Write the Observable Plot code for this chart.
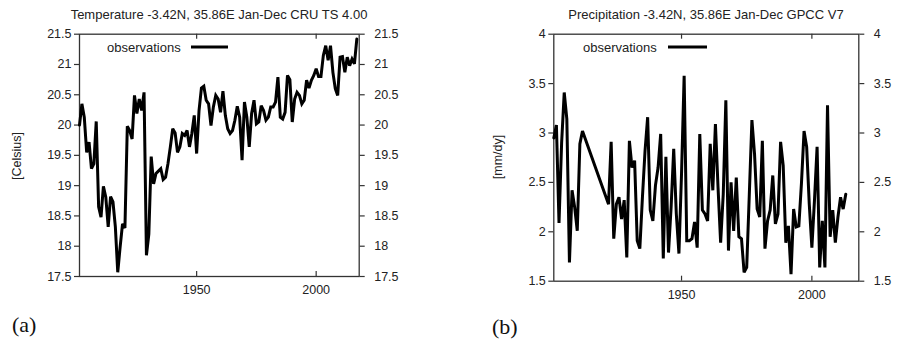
<!DOCTYPE html>
<html>
<head>
<meta charset="utf-8">
<script src="https://cdn.jsdelivr.net/npm/d3@7"></script>
<script src="https://cdn.jsdelivr.net/npm/@observablehq/plot@0.6"></script>
<style>
  html, body { margin: 0; padding: 0; background: #fff; }
  #wrap { position: relative; width: 901px; height: 344px; overflow: hidden; font-family: "Liberation Sans", Arial, sans-serif; color: #222; }
  .abs { position: absolute; white-space: nowrap; }
  .title { font-size: 13px; transform: translate(-50%, -50%); }
  .ylab { font-size: 12.5px; transform: translate(-50%, -50%) rotate(-90deg); }
  .panel { font-family: "Liberation Serif", "DejaVu Serif", serif; font-size: 22px; color: #111; }
  .legtext { font-size: 13px; transform: translateY(-50%); }
  .legline { height: 3px; background: #000; transform: translateY(-50%); }
  svg { position: absolute; top: 0; }
</style>
</head>
<body>
<div id="wrap"></div>
<script>
// ---- Data ----
const tempYears = d3.range(1901, 2018);
const tempValues = [
  20.00, 20.35, 20.13, 19.55, 19.72, 19.28, 19.36, 20.06, 18.65, 18.48,
  18.99, 18.81, 18.32, 18.82, 18.73, 18.32, 17.57, 17.99, 18.37, 18.30,
  19.98, 19.91, 19.77, 20.49, 20.19, 20.43, 20.24, 20.54, 17.85, 18.20,
  19.48, 19.03, 19.20, 19.24, 19.28, 19.10, 19.14, 19.36, 19.64, 19.94,
  19.87, 19.55, 19.64, 19.86, 19.83, 19.91, 19.64, 19.86, 20.16, 19.53,
  20.24, 20.61, 20.64, 20.41, 20.35, 19.99, 20.30, 20.49, 20.43, 20.21,
  20.56, 20.16, 19.94, 19.86, 19.91, 20.08, 20.31, 20.13, 19.42, 20.38,
  20.13, 19.64, 20.19, 20.41, 20.02, 20.05, 20.32, 20.24, 20.08, 20.13,
  20.30, 20.30, 20.38, 20.79, 20.13, 20.10, 20.21, 20.82, 20.75, 20.05,
  20.43, 20.54, 20.49, 20.35, 20.41, 20.74, 20.61, 20.74, 20.82, 20.93,
  20.80, 20.80, 21.15, 21.31, 21.07, 21.31, 20.87, 20.60, 20.49, 21.12,
  21.13, 20.87, 21.12, 20.98, 21.09, 21.01, 21.42
];
const precYears = [].concat(d3.range(1901, 1913), d3.range(1922, 2014));
const precValues = [
  2.95, 3.08, 2.09, 2.90, 3.41, 3.14, 1.69, 2.42, 2.25, 2.01, 2.89, 3.02,
  2.28, 2.91, 1.93, 2.28, 2.35, 2.13, 2.32, 1.74, 2.92, 2.65,
  2.72, 1.91, 1.83, 2.35, 2.82, 3.16, 2.22, 2.11, 2.47, 2.65,
  2.99, 1.73, 2.76, 1.79, 2.25, 2.84, 2.18, 1.78, 2.59, 3.58,
  1.91, 1.91, 1.93, 2.10, 1.84, 2.99, 2.22, 2.18, 2.11, 2.89,
  2.42, 3.09, 2.45, 1.89, 2.38, 3.33, 1.81, 2.50, 2.01, 2.55,
  1.95, 1.93, 1.59, 1.64, 2.38, 3.13, 2.79, 2.23, 2.15, 2.92,
  1.83, 2.11, 2.22, 2.57, 2.08, 2.18, 2.91, 2.67, 1.89, 2.06,
  1.57, 2.23, 2.05, 2.06, 2.49, 3.02, 2.86, 2.28, 1.84, 2.32,
  2.86, 1.64, 2.11, 1.64, 3.28, 1.95, 2.22, 1.89, 2.15, 2.35,
  2.23, 2.38
];
const xTicks = [1950, 2000];
const tempTicks = [17.5, 18, 18.5, 19, 19.5, 20, 20.5, 21, 21.5];
const precTicks = [1.5, 2, 2.5, 3, 3.5, 4];
const xDomain = [1901, 2018];

const tempData = tempYears.map((y, i) => ({year: y, value: tempValues[i]}));
const precData = precYears.map((y, i) => ({year: y, value: precValues[i]}));

function panel({data, yDomain, yTicks, width, height, ml, mr, mt, mb}) {
  const ih = height - mt - mb;
  const ink = "#333";
  return Plot.plot({
    width, height,
    marginLeft: ml, marginRight: mr, marginTop: mt, marginBottom: mb,
    style: {fontFamily: "'Liberation Sans', Arial, sans-serif", fontSize: "12.5px", color: "#222", background: "transparent", overflow: "visible"},
    x: {domain: xDomain},
    y: {domain: yDomain},
    marks: [
      Plot.tickX(xTicks, {stroke: ink, strokeWidth: 1.2, insetTop: ih - 5}),
      Plot.tickX(xTicks, {stroke: ink, strokeWidth: 1.2, insetBottom: ih - 5}),
      Plot.axisX({ticks: xTicks, tickSize: 0, tickPadding: 9, tickFormat: d => String(d), label: null}),
      Plot.axisY({anchor: "left", ticks: yTicks, tickSize: 5, tickPadding: 3, tickFormat: d => String(d), label: null, stroke: ink, strokeWidth: 1.2}),
      Plot.axisY({anchor: "right", ticks: yTicks, tickSize: 5, tickPadding: 10, tickFormat: d => String(d), label: null, stroke: ink, strokeWidth: 1.2}),
      Plot.frame({stroke: ink, strokeWidth: 1.3}),
      Plot.line(data, {x: "year", y: "value", stroke: "#000", strokeWidth: 3, strokeLinejoin: "miter", strokeMiterlimit: 3})
    ]
  });
}

const wrap = document.getElementById("wrap");

const svgA = panel({data: tempData, yDomain: [17.5, 21.5], yTicks: tempTicks,
  width: 450, height: 300, ml: 79, mr: 91.3, mt: 33.7, mb: 24});
svgA.style.left = "0px";
wrap.appendChild(svgA);

const svgB = panel({data: precData, yDomain: [1.5, 4], yTicks: precTicks,
  width: 451, height: 305, ml: 103.3, mr: 42.7, mt: 33.7, mb: 24.3});
svgB.style.left = "450px";
wrap.appendChild(svgB);

function addDiv(cls, text, css) {
  const d = document.createElement("div");
  d.className = "abs " + cls;
  d.textContent = text;
  Object.assign(d.style, css);
  wrap.appendChild(d);
  return d;
}

addDiv("title", "Temperature -3.42N, 35.86E Jan-Dec CRU TS 4.00", {left: "219px", top: "14px"});
addDiv("title", "Precipitation -3.42N, 35.86E Jan-Dec GPCC V7", {left: "706px", top: "14px"});
addDiv("ylab", "[Celsius]", {left: "17px", top: "156px"});
addDiv("ylab", "[mm/dy]", {left: "498px", top: "157px"});
addDiv("panel", "(a)", {left: "12px", top: "312px"});
addDiv("panel", "(b)", {left: "492px", top: "314px"});
addDiv("legtext", "observations", {left: "107px", top: "47px"});
addDiv("legline", "", {left: "191px", top: "47px", width: "37px"});
addDiv("legtext", "observations", {left: "583px", top: "47px"});
addDiv("legline", "", {left: "668px", top: "47px", width: "39px"});
</script>
</body>
</html>
